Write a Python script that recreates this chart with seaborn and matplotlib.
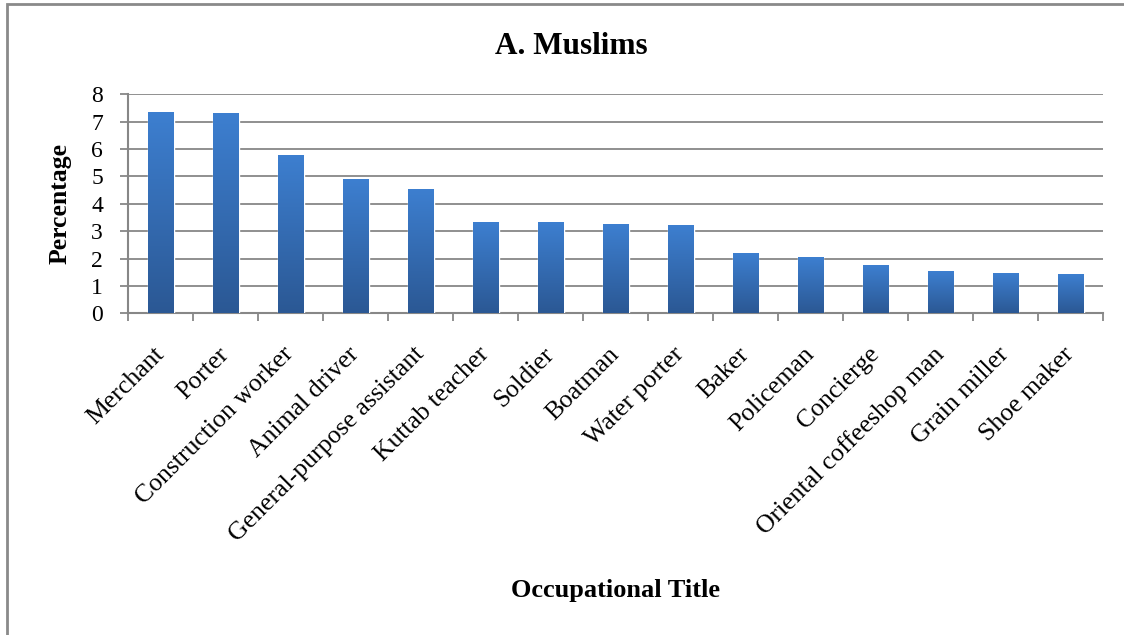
import matplotlib
matplotlib.use("Agg")
import matplotlib.pyplot as plt
from matplotlib.patches import Rectangle
from matplotlib.colors import LinearSegmentedColormap
import numpy as np
import pandas as pd
import seaborn as sns

categories = ["Merchant", "Porter", "Construction worker", "Animal driver",
              "General-purpose assistant", "Kuttab teacher", "Soldier", "Boatman",
              "Water porter", "Baker", "Policeman", "Concierge",
              "Oriental coffeeshop man", "Grain miller", "Shoe maker"]
percentages = [7.34, 7.30, 5.80, 4.89, 4.53, 3.32, 3.32, 3.25, 3.21, 2.19,
               2.04, 1.75, 1.53, 1.46, 1.42]
yticks = [0, 1, 2, 3, 4, 5, 6, 7, 8]

sns.set_theme(style="white")
plt.rcParams["font.family"] = ["Liberation Serif", "DejaVu Serif"]
plt.rcParams["text.color"] = "black"
plt.rcParams["xtick.color"] = "black"
plt.rcParams["ytick.color"] = "black"
plt.rcParams["axes.labelcolor"] = "black"

df = pd.DataFrame({"Occupation": categories, "Percentage": percentages})

fig = plt.figure(figsize=(11.24, 6.35), dpi=100)
ax = fig.add_axes([128/1124, 1-313.3/635, (1103-128)/1124, (313.3-94.3)/635])

grid_c = "#878787"
sns.barplot(data=df, x="Occupation", y="Percentage", width=0.4,
            color="#3470bb", ax=ax, zorder=3, saturation=1)

cmap = LinearSegmentedColormap.from_list("g", ["#2b5894", "#3d7fd0"])
grad = np.linspace(0, 1, 256).reshape(-1, 1)
for p in ax.patches:
    x0, y0 = p.get_x(), p.get_y()
    w, h = p.get_width(), p.get_height()
    im = ax.imshow(grad, cmap=cmap, aspect="auto", origin="lower",
                   extent=[x0, x0 + w, y0, y0 + h], zorder=4)
    im.set_clip_path(p)

ax.set_xlim(-0.5, len(categories) - 0.5)
ax.set_ylim(0, 8)
ax.set_yticks(yticks)
ax.set_yticklabels([str(t) for t in yticks])
for y in yticks[1:]:
    ax.axhline(y, color=grid_c, lw=1.3, zorder=1)

for s in ["top", "right"]:
    ax.spines[s].set_visible(False)
for s in ["left", "bottom"]:
    ax.spines[s].set_color(grid_c)
    ax.spines[s].set_linewidth(1.5)

ax.tick_params(axis="y", which="major", direction="out", length=6, width=1.3,
               color=grid_c, left=True, pad=12, labelsize=17, labelcolor="black")
ax.set_xticks(np.arange(len(categories)))
ax.set_xticks(np.arange(len(categories) + 1) - 0.5, minor=True)
ax.tick_params(axis="x", which="major", length=0, pad=27, labelsize=18.5,
               labelcolor="black")
ax.tick_params(axis="x", which="minor", direction="out", length=6, width=1.3,
               color=grid_c, bottom=True)
for lab in ax.get_xticklabels():
    lab.set_rotation(45)
    lab.set_ha("right")
    lab.set_va("center")
    lab.set_rotation_mode("anchor")

ax.set_xlabel("")
ax.set_ylabel("Percentage", fontsize=18.5, fontweight="bold", labelpad=14,
              color="black")
fig.text(615.5/1124, 1-590/635, "Occupational Title", fontsize=19,
         fontweight="bold", ha="center", va="center", color="black")
fig.text(571/1124, 1-46/635, "A. Muslims", fontsize=22.5,
         fontweight="bold", ha="center", va="center", color="black")

fig.patches.append(Rectangle((7/1124, -0.1), 2, 1 - 4/635 + 0.1,
                             transform=fig.transFigure, fill=False,
                             edgecolor="#8a8a8a", lw=2))

fig.savefig("out.png", dpi=100)
